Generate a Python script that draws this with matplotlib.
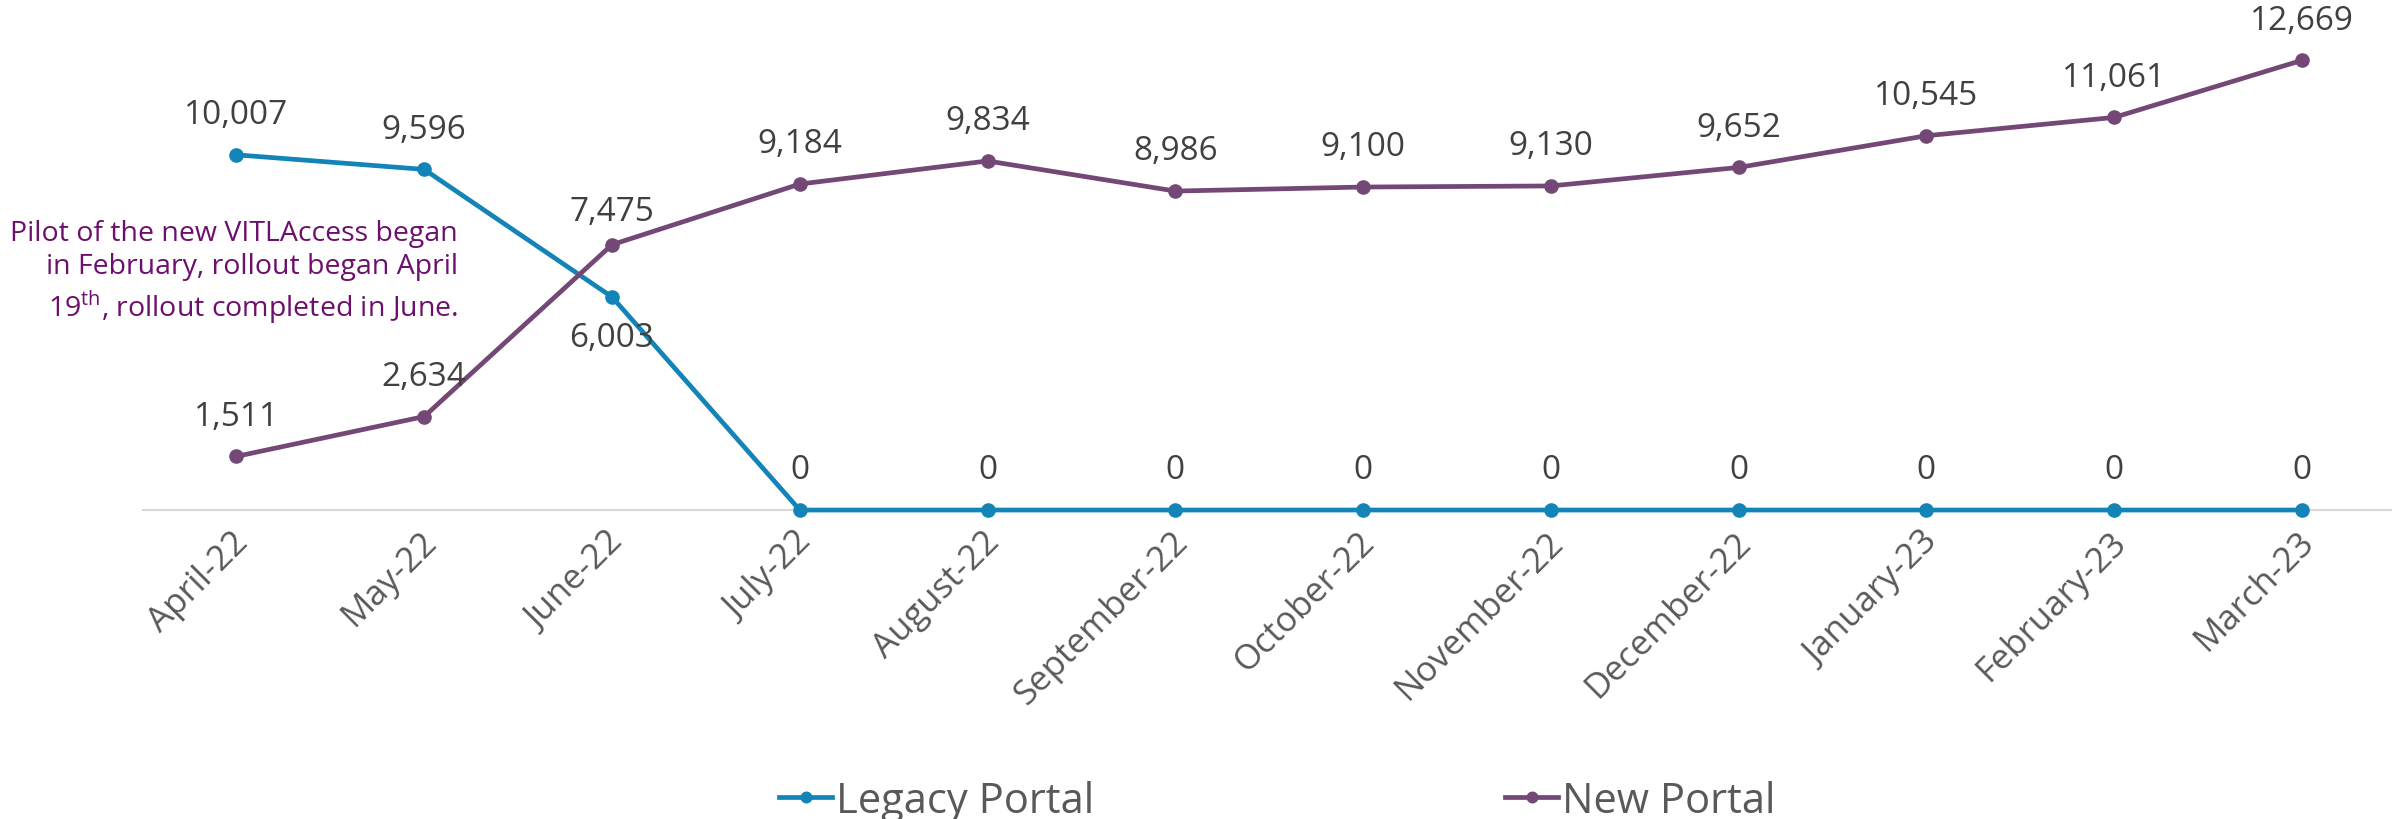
import matplotlib
matplotlib.use('Agg')
import matplotlib.pyplot as plt
from matplotlib.transforms import ScaledTranslation

# chart data
months = ['April-22', 'May-22', 'June-22', 'July-22', 'August-22', 'September-22',
          'October-22', 'November-22', 'December-22', 'January-23', 'February-23', 'March-23']
legacy = [10007, 9596, 6003, 0, 0, 0, 0, 0, 0, 0, 0, 0]
new_portal = [1511, 2634, 7475, 9184, 9834, 8986, 9100, 9130, 9652, 10545, 11061, 12669]
note = 'Pilot of the new VITLAccess began\nin February, rollout began April\n19$^{\\rm th}$, rollout completed in June.'

BLUE = '#1384b7'
PURPLE = '#734876'
LABEL = '#404040'
GREY = '#595959'

plt.rcParams['font.family'] = ['Open Sans', 'DejaVu Sans']
plt.rcParams['mathtext.fontset'] = 'custom'
plt.rcParams['mathtext.rm'] = 'Open Sans'

fig = plt.figure(figsize=(23.92, 8.20), dpi=100)
ax = fig.add_axes([0.0596, 0.3768, 0.942, 0.606])

x = list(range(len(months)))
ax.plot(x, legacy, color=BLUE, lw=3.4, marker='o', ms=9.5, label='Legacy Portal', clip_on=False, zorder=3)
ax.plot(x, new_portal, color=PURPLE, lw=3.4, marker='o', ms=9.5, label='New Portal', clip_on=False, zorder=3)

# data labels
for i, v in enumerate(legacy):
    off = -29 if i == 2 else 29
    ax.annotate(f'{v:,}', (i, v), xytext=(0, off), textcoords='offset points',
                ha='center', va='center', fontsize=24, color=LABEL)
for i, v in enumerate(new_portal):
    off = 24 if i == 2 else 29
    ax.annotate(f'{v:,}', (i, v), xytext=(0, off), textcoords='offset points',
                ha='center', va='center', fontsize=24, color=LABEL)

ax.set_xlim(-0.5, 11.5)
ax.set_ylim(0, 14000)
ax.set_yticks([])
ax.set_xticks(x)
ax.set_xticklabels(months, rotation=45, ha='right', va='center', rotation_mode='anchor',
                   fontsize=25, color=GREY)
ax.tick_params(axis='x', length=0, pad=19)
shift = ScaledTranslation(5 / 72, 0, fig.dpi_scale_trans)
for lab in ax.get_xticklabels():
    lab.set_transform(lab.get_transform() + shift)
for s in ['top', 'right', 'left']:
    ax.spines[s].set_visible(False)
ax.spines['bottom'].set_color('#d9d9d9')
ax.spines['bottom'].set_linewidth(1.5)
ax.spines['bottom'].set_zorder(1)

fig.text(0.1915, 0.667, note, ha='right', va='center', multialignment='right',
         fontsize=20.5, color='#6d0f6d', linespacing=1.25)

fig.legend(loc='center', bbox_to_anchor=(0.534, 0.022), ncol=2, frameon=False,
           fontsize=30, labelcolor=GREY, handlelength=1.27, handletextpad=0.1,
           columnspacing=9.86, borderpad=0, markerscale=0.8)

fig.savefig('out.png', dpi=100)
